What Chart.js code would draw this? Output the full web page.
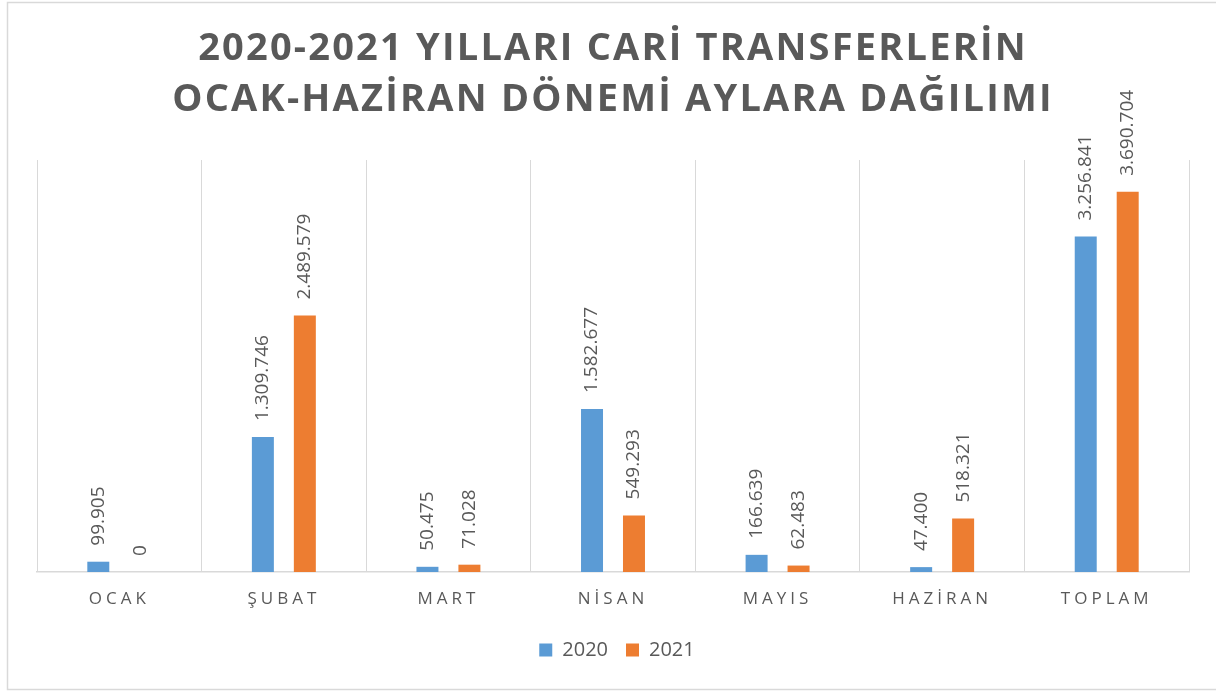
<!DOCTYPE html>
<html>
<head>
<meta charset="utf-8">
<script src="https://cdn.jsdelivr.net/npm/chart.js@4/dist/chart.umd.min.js"></script>
<style>
  html, body { margin: 0; padding: 0; background: #ffffff; }
  canvas { display: block; }
</style>
</head>
<body>
<canvas id="c" width="1216" height="691"></canvas>
<script>
const titleLines = ["2020-2021 YILLARI CARİ TRANSFERLERİN", "OCAK-HAZİRAN DÖNEMİ AYLARA DAĞILIMI"];
const categories = ["OCAK", "ŞUBAT", "MART", "NİSAN", "MAYIS", "HAZİRAN", "TOPLAM"];
const seriesNames = ["2020", "2021"];
const values2020 = [99905, 1309746, 50475, 1582677, 166639, 47400, 3256841];
const values2021 = [0, 2489579, 71028, 549293, 62483, 518321, 3690704];
const axisMax = 4000000;

const TEXT = '#595959';
const GRID = '#d9d9d9';

function fmt(v) {
  return String(v).replace(/\B(?=(\d{3})+(?!\d))/g, '.');
}

const framePlugin = {
  id: 'frame',
  afterLayout(chart) {
    if (chart.legend) {
      chart.legend.left += 4;
      chart.legend.right += 4;
    }
  },
  beforeDraw(chart) {
    const ctx = chart.ctx;
    ctx.save();
    ctx.fillStyle = '#ffffff';
    ctx.fillRect(0, 0, chart.width, chart.height);
    ctx.strokeStyle = GRID;
    ctx.lineWidth = 1.5;
    ctx.strokeRect(7.5, 2.5, chart.width + 10, chart.height - 2.5 - 1.5);
    ctx.restore();

    // letter spacing for title and category labels
    const x = chart.scales.x;
    if (x && !x.__spaced) {
      const orig = x.drawLabels;
      x.drawLabels = function (area) {
        const c = this.ctx;
        const prev = c.letterSpacing;
        c.letterSpacing = '4px';
        orig.call(this, area);
        c.letterSpacing = prev || '0px';
      };
      x.__spaced = true;
    }
    const t = chart.titleBlock;
    if (t && !t.__spaced) {
      const origT = t.draw;
      t.draw = function (area) {
        const c = this.ctx;
        const prev = c.letterSpacing;
        c.letterSpacing = '2.2px';
        origT.call(this, area);
        c.letterSpacing = prev || '0px';
      };
      t.__spaced = true;
    }
  }
};

const labelPlugin = {
  id: 'barLabels',
  afterDatasetsDraw(chart) {
    const ctx = chart.ctx;
    ctx.save();
    ctx.font = '19px "Open Sans"';
    ctx.fillStyle = TEXT;
    ctx.textAlign = 'left';
    ctx.textBaseline = 'middle';
    chart.data.datasets.forEach((ds, i) => {
      const meta = chart.getDatasetMeta(i);
      meta.data.forEach((bar, j) => {
        ctx.save();
        ctx.translate(bar.x, bar.y - 16);
        ctx.rotate(-Math.PI / 2);
        ctx.fillText(fmt(ds.data[j]), 0, 0);
        ctx.restore();
      });
    });
    ctx.restore();
  }
};

new Chart(document.getElementById('c'), {
  type: 'bar',
  data: {
    labels: categories,
    datasets: [
      { label: seriesNames[0], data: values2020, backgroundColor: '#5B9BD5', borderWidth: 0 },
      { label: seriesNames[1], data: values2021, backgroundColor: '#ED7D31', borderWidth: 0 }
    ]
  },
  options: {
    responsive: false,
    animation: false,
    devicePixelRatio: 1,
    layout: { padding: { left: 37, right: 27, top: 0, bottom: 21 } },
    datasets: { bar: { categoryPercentage: 0.51, barPercentage: 0.524 } },
    plugins: {
      title: {
        display: true,
        text: titleLines,
        color: TEXT,
        font: { family: '"Open Sans"', size: 38, weight: 'bold', lineHeight: 51 / 38 },
        padding: { top: 24, bottom: 34 }
      },
      legend: {
        display: true,
        position: 'bottom',
        labels: {
          color: TEXT,
          font: { family: '"Open Sans"', size: 20 },
          boxWidth: 13,
          boxHeight: 13,
          padding: 18
        }
      },
      tooltip: { enabled: false }
    },
    scales: {
      x: {
        offset: true,
        grid: { display: true, offset: true, color: GRID, lineWidth: 1, drawTicks: false },
        border: { display: true, color: GRID, width: 1.5 },
        ticks: {
          color: TEXT,
          font: { family: '"Open Sans"', size: 17 },
          padding: 17,
          maxRotation: 0,
          autoSkip: false
        },
        afterFit(scale) { scale.height = 50; }
      },
      y: {
        display: false,
        min: 0,
        max: axisMax
      }
    }
  },
  plugins: [framePlugin, labelPlugin]
});
</script>
</body>
</html>
